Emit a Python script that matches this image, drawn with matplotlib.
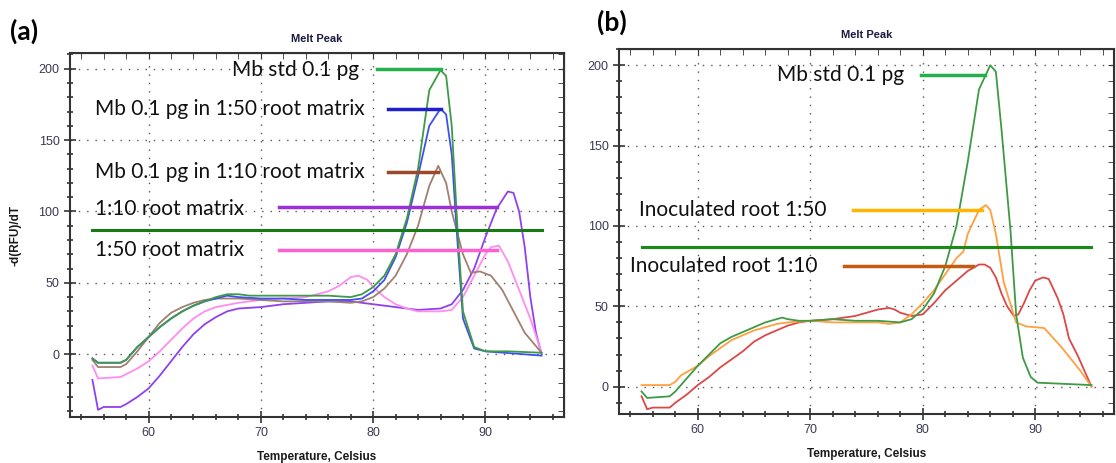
import numpy as np
import matplotlib.pyplot as plt
from matplotlib.ticker import MultipleLocator

# ---- panel (a) melt peak curves ----
a_std_t = [55, 55.5, 57.5, 58, 59, 60, 61, 62, 63, 64, 65, 66, 67, 68, 69, 70, 72, 74, 76, 78, 79, 80, 81, 82, 83, 84, 85, 86, 86.5, 87, 87.5, 88, 89, 90, 92, 95]
a_std_v = [-3, -6, -6, -4, 5, 12, 19, 25, 30, 34, 37, 40, 42, 42, 41, 41, 41, 41, 41, 40, 42, 47, 55, 70, 95, 130, 185, 199, 195, 160, 90, 30, 5, 2, 2, 1]

a_mb50_t = [55, 55.5, 57.5, 58, 59, 60, 61, 62, 63, 64, 65, 66, 67, 68, 70, 72, 74, 76, 78, 79, 80, 81, 82, 83, 84, 85, 86, 86.5, 87, 87.5, 88, 89, 90, 95]
a_mb50_v = [-3, -6, -6, -4, 5, 12, 19, 25, 30, 34, 37, 39, 41, 40, 39, 39, 38, 38, 38, 39, 44, 52, 68, 92, 125, 160, 172, 168, 140, 80, 25, 4, 2, -1]

a_mb10_t = [55, 55.5, 57.5, 58, 59, 60, 61, 62, 63, 64, 65, 66, 68, 70, 72, 74, 76, 78, 79, 80, 81, 82, 83, 84, 85, 85.8, 86.5, 87, 88, 88.7, 89.5, 90.5, 91.5, 92.5, 93.5, 95]
a_mb10_v = [-4, -9, -9, -7, 2, 12, 22, 29, 33, 36, 38, 39, 39, 38, 37, 37, 37, 36, 37, 40, 46, 55, 70, 90, 118, 132, 120, 100, 70, 57, 58, 55, 45, 30, 15, 1]

a_r50_t = [55, 55.5, 57.5, 58, 59, 60, 61, 62, 63, 64, 65, 66, 68, 70, 72, 74, 76, 77, 78, 78.7, 79.5, 80, 81, 82, 83, 84, 86, 87, 88, 89, 90, 90.5, 91.2, 92, 93, 94, 95]
a_r50_v = [-8, -17, -16, -14, -10, -5, 2, 10, 18, 25, 30, 33, 36, 38, 39, 40, 44, 48, 54, 55, 52, 47, 40, 35, 32, 30, 30, 31, 40, 55, 70, 75, 76, 65, 45, 25, 1]

a_r10_t = [55, 55.5, 56, 57.5, 58, 59, 60, 61, 62, 63, 64, 65, 66, 67, 68, 70, 72, 74, 76, 78, 79, 80, 82, 84, 86, 87, 88, 89, 90, 91, 92, 92.5, 93, 93.5, 94, 94.5, 95]
a_r10_v = [-18, -39, -37, -37, -35, -30, -24, -15, -5, 5, 14, 21, 26, 30, 32, 33, 35, 36, 37, 37, 36, 35, 33, 31, 32, 35, 45, 60, 82, 102, 114, 113, 100, 75, 40, 15, 0]

# ---- panel (b) melt peak curves ----
b_std_t = [55, 55.5, 57.5, 58, 59, 60, 61, 62, 63, 64, 65, 66, 67, 67.5, 68, 69, 70, 72, 74, 76, 78, 79, 80, 81, 82, 83, 84, 85, 86, 86.5, 87, 87.8, 88.3, 88.9, 89.6, 90.2, 95]
b_std_v = [-3, -7, -6, -3, 5, 13, 20, 27, 31, 34, 37, 40, 42, 43, 42, 41, 41, 42, 41, 41, 40, 42, 48, 58, 75, 100, 140, 185, 200, 196, 160, 97, 45, 18, 6, 2.5, 1]

b_i50_t = [55, 57.5, 58, 58.5, 59, 60, 61, 62, 63, 64, 65, 66, 67, 68, 70, 72, 74, 76, 77, 78, 79, 80, 81, 82, 83, 83.6, 84, 85, 85.6, 86, 86.5, 87.2, 88.3, 89.2, 90.8, 92.4, 94, 95]
b_i50_v = [1, 1, 3, 7, 9, 13, 19, 24, 29, 32, 35, 37, 39, 40, 41, 40, 40, 40, 39, 40, 45, 52, 60, 70, 80, 84, 95, 110, 113, 110, 95, 65, 40, 37.5, 36.5, 24, 10, 0]

b_i10_t = [55, 55.5, 56, 57.5, 58, 59, 60, 61, 62, 63, 64, 65, 66, 67, 68, 69, 70, 72, 74, 75, 76, 77, 77.5, 78, 79, 80, 81, 82, 83, 84, 85, 85.5, 86, 86.5, 87, 87.5, 88.1, 88.5, 89, 89.5, 90, 90.7, 91.2, 92, 92.5, 93, 93.8, 95]
b_i10_v = [-6, -14, -13, -13, -10, -5, 1, 6, 12, 17, 22, 28, 32, 35, 38, 40, 41, 42, 44, 46, 48, 49, 48, 46, 44, 45, 52, 60, 66, 72, 76, 76, 74, 68, 58, 50, 44, 45, 52, 60, 66, 68, 67, 55, 45, 30, 19, 0]

threshold = 87

# annotation labels: text, text x, text y, line x0, line x1, line y
a_labels = ["Mb std 0.1 pg", "Mb 0.1 pg in 1:50 root matrix", "Mb 0.1 pg in 1:10 root matrix",
            "1:10 root matrix", "1:50 root matrix"]
a_text_x = [67.4, 55.2, 55.2, 55.2, 55.2]
a_text_y = [199, 172, 128, 102, 73]
a_line_x0 = [80.3, 81.3, 81.3, 71.6, 71.6]
a_line_x1 = [86.0, 86.0, 85.8, 91.0, 91.0]
a_line_y = [200, 172, 128, 103, 73]

b_labels = ["Mb std 0.1 pg", "Inoculated root 1:50", "Inoculated root 1:10"]
b_text_x = [67.0, 54.8, 54.0]
b_text_y = [194, 110, 75]
b_line_x0 = [79.8, 73.8, 73.0]
b_line_x1 = [85.5, 85.3, 84.5]
b_line_y = [194, 110, 75]

LABEL_FONT = ['Lato', 'DejaVu Sans']
TICK_FONT = ['Liberation Sans', 'DejaVu Sans']


def style_axes(ax, ylim):
    ax.set_xlim(53, 97)
    ax.set_ylim(*ylim)
    ax.xaxis.set_major_locator(MultipleLocator(10))
    ax.xaxis.set_minor_locator(MultipleLocator(2))
    ax.yaxis.set_major_locator(MultipleLocator(50))
    ax.yaxis.set_minor_locator(MultipleLocator(10))
    ax.grid(True, which='major', color='#555555', linestyle=(0, (1, 5)), linewidth=1)
    ax.tick_params(which='both', direction='inout', colors='#333333', labelcolor='#3a3a55',
                   labelsize=9, width=1.2)
    ax.tick_params(which='major', length=8)
    ax.tick_params(which='minor', length=5)
    for lab in ax.get_xticklabels() + ax.get_yticklabels():
        lab.set_family(TICK_FONT)
    for s in ax.spines.values():
        s.set_color('#333333')
        s.set_linewidth(1.5)
    top = ax.secondary_xaxis('top')
    top.xaxis.set_minor_locator(MultipleLocator(2))
    top.xaxis.set_major_locator(MultipleLocator(10))
    top.tick_params(which='both', direction='in', labeltop=False, length=4, colors='#333333')
    right = ax.secondary_yaxis('right')
    right.yaxis.set_minor_locator(MultipleLocator(10))
    right.yaxis.set_major_locator(MultipleLocator(50))
    right.tick_params(which='both', direction='in', labelright=False, length=4, colors='#333333')
    ax.set_title('Melt Peak', fontsize=8, fontweight='bold', color='#1a1a40',
                 family=TICK_FONT, pad=8)
    ax.set_xlabel('Temperature, Celsius', fontsize=8.5, fontweight='bold',
                  color='#1a1a1a', family=TICK_FONT, labelpad=8)


fig = plt.figure(figsize=(11.16, 4.63), dpi=100)
ax1 = fig.add_axes([0.0627, 0.0994, 0.4427, 0.786])
ax2 = fig.add_axes([0.5547, 0.1058, 0.4435, 0.788])

# panel (a)
ax1.plot(a_r10_t, a_r10_v, color='#9040f0', lw=1.3)
ax1.plot(a_r50_t, a_r50_v, color='#ff8cf0', lw=1.3)
ax1.plot(a_mb10_t, a_mb10_v, color='#a08070', lw=1.3)
ax1.plot(a_mb50_t, a_mb50_v, color='#4050f0', lw=1.3)
ax1.plot(a_std_t, a_std_v, color='#3f9a45', lw=1.3)
ax1.plot([55, 95], [threshold, threshold], color='#177a17', lw=2.2, zorder=4)
a_line_colors = ['#22b14c', '#2020c8', '#9a4a2a', '#9b30d9', '#ff60d0']
for i in range(len(a_labels)):
    ax1.plot([a_line_x0[i], a_line_x1[i]], [a_line_y[i], a_line_y[i]],
             color=a_line_colors[i], lw=2.5, zorder=5)
    ax1.text(a_text_x[i], a_text_y[i], a_labels[i], fontsize=15, va='center', ha='left',
             family=LABEL_FONT, color='#111111', zorder=6)
style_axes(ax1, (-44, 211))
ax1.set_ylabel('-d(RFU)/dT', fontsize=8.5, fontweight='bold', color='#1a1a1a',
               family=TICK_FONT, labelpad=12)

# panel (b)
ax2.plot(b_i10_t, b_i10_v, color='#dc4848', lw=1.3)
ax2.plot(b_i50_t, b_i50_v, color='#ffa040', lw=1.3)
ax2.plot(b_std_t, b_std_v, color='#3f9a45', lw=1.3)
ax2.plot([55, 95], [threshold, threshold], color='#178a17', lw=2.2, zorder=4)
b_line_colors = ['#22b14c', '#ffb400', '#c55a11']
for i in range(len(b_labels)):
    ax2.plot([b_line_x0[i], b_line_x1[i]], [b_line_y[i], b_line_y[i]],
             color=b_line_colors[i], lw=2.5, zorder=5)
    ax2.text(b_text_x[i], b_text_y[i], b_labels[i], fontsize=15, va='center', ha='left',
             family=LABEL_FONT, color='#111111', zorder=6)
style_axes(ax2, (-17, 210))

fig.text(0.009, 0.933, '(a)', fontsize=19, fontweight='bold', family=LABEL_FONT, va='center')
fig.text(0.535, 0.952, '(b)', fontsize=19, fontweight='bold', family=LABEL_FONT, va='center')

fig.savefig('out.png', dpi=100)
